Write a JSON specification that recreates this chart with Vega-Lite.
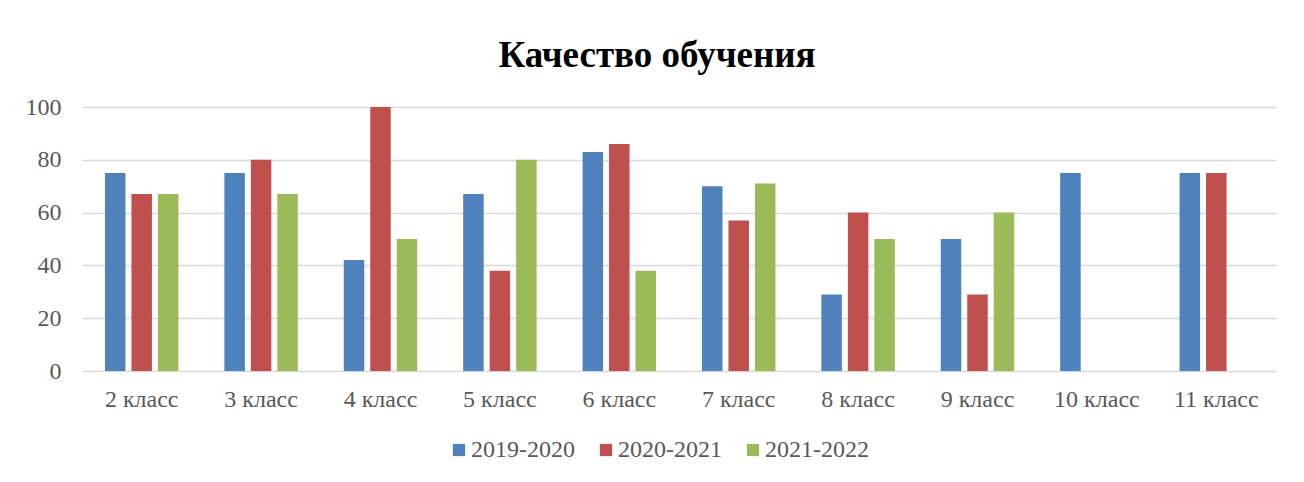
{
  "$schema": "https://vega.github.io/schema/vega-lite/v6.json",
  "width": 1194,
  "height": 264,
  "autosize": {"type": "none"},
  "padding": {"left": 82, "top": 107, "right": 28, "bottom": 111},
  "background": "white",
  "title": {
    "text": "Качество обучения",
    "font": "Liberation Serif",
    "fontSize": 37,
    "fontWeight": "bold",
    "color": "#000000",
    "anchor": "middle",
    "frame": "group",
    "dx": -22,
    "offset": 20
  },
  "data": {
    "values": [
      {"klass": "2 класс", "year": "2019-2020", "value": 75},
      {"klass": "2 класс", "year": "2020-2021", "value": 67},
      {"klass": "2 класс", "year": "2021-2022", "value": 67},
      {"klass": "3 класс", "year": "2019-2020", "value": 75},
      {"klass": "3 класс", "year": "2020-2021", "value": 80},
      {"klass": "3 класс", "year": "2021-2022", "value": 67},
      {"klass": "4 класс", "year": "2019-2020", "value": 42},
      {"klass": "4 класс", "year": "2020-2021", "value": 100},
      {"klass": "4 класс", "year": "2021-2022", "value": 50},
      {"klass": "5 класс", "year": "2019-2020", "value": 67},
      {"klass": "5 класс", "year": "2020-2021", "value": 38},
      {"klass": "5 класс", "year": "2021-2022", "value": 80},
      {"klass": "6 класс", "year": "2019-2020", "value": 83},
      {"klass": "6 класс", "year": "2020-2021", "value": 86},
      {"klass": "6 класс", "year": "2021-2022", "value": 38},
      {"klass": "7 класс", "year": "2019-2020", "value": 70},
      {"klass": "7 класс", "year": "2020-2021", "value": 57},
      {"klass": "7 класс", "year": "2021-2022", "value": 71},
      {"klass": "8 класс", "year": "2019-2020", "value": 29},
      {"klass": "8 класс", "year": "2020-2021", "value": 60},
      {"klass": "8 класс", "year": "2021-2022", "value": 50},
      {"klass": "9 класс", "year": "2019-2020", "value": 50},
      {"klass": "9 класс", "year": "2020-2021", "value": 29},
      {"klass": "9 класс", "year": "2021-2022", "value": 60},
      {"klass": "10 класс", "year": "2019-2020", "value": 75},
      {"klass": "11 класс", "year": "2019-2020", "value": 75},
      {"klass": "11 класс", "year": "2020-2021", "value": 75}
    ]
  },
  "mark": {"type": "bar"},
  "encoding": {
    "x": {
      "field": "klass",
      "type": "nominal",
      "sort": ["2 класс", "3 класс", "4 класс", "5 класс", "6 класс", "7 класс", "8 класс", "9 класс", "10 класс", "11 класс"],
      "scale": {"paddingInner": 0.385, "paddingOuter": 0.1925},
      "axis": {
        "title": null,
        "labelAngle": 0,
        "labelFont": "Liberation Serif",
        "labelFontSize": 24,
        "labelColor": "#595959",
        "labelPadding": 16,
        "ticks": false,
        "domain": false,
        "grid": false
      }
    },
    "xOffset": {
      "field": "year",
      "type": "nominal",
      "scale": {"paddingInner": 0.226, "paddingOuter": 0}
    },
    "y": {
      "field": "value",
      "type": "quantitative",
      "scale": {"domain": [0, 100], "nice": false},
      "axis": {
        "title": null,
        "values": [0, 20, 40, 60, 80, 100],
        "labelFont": "Liberation Serif",
        "labelFontSize": 24,
        "labelColor": "#595959",
        "labelPadding": 21,
        "ticks": false,
        "domain": false,
        "grid": true,
        "gridColor": "#d9d9d9",
        "gridWidth": 1.5
      }
    },
    "color": {
      "field": "year",
      "type": "nominal",
      "scale": {"domain": ["2019-2020", "2020-2021", "2021-2022"], "range": ["#4F81BD", "#C0504D", "#9BBB59"]},
      "legend": {
        "title": null,
        "orient": "none",
        "direction": "horizontal",
        "legendX": 365,
        "legendY": 331,
        "symbolType": "square",
        "symbolSize": 150,
        "symbolStrokeWidth": 0,
        "labelFont": "Liberation Serif",
        "labelFontSize": 24,
        "labelColor": "#595959",
        "labelOffset": 0,
        "columnPadding": 19
      }
    }
  },
  "config": {
    "view": {"stroke": null}
  }
}
